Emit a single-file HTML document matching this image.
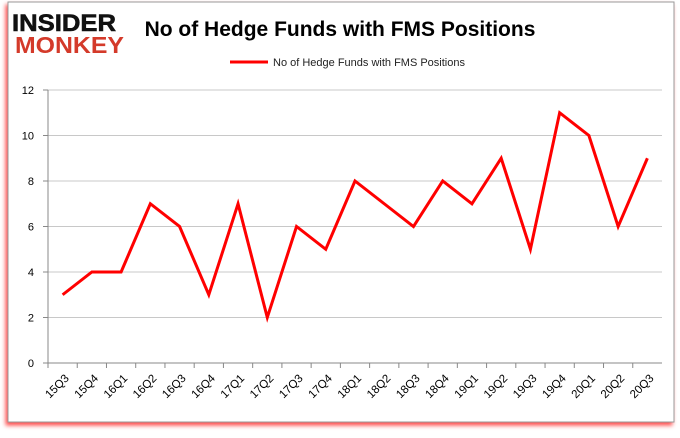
<!DOCTYPE html>
<html><head><meta charset="utf-8"><style>
body{margin:0;background:#fff;width:680px;height:433px;overflow:hidden;font-family:"Liberation Sans",sans-serif}
</style></head><body>
<svg width="680" height="433" xmlns="http://www.w3.org/2000/svg">
<defs><filter id="sh" x="-5%" y="-5%" width="110%" height="110%"><feDropShadow dx="-2" dy="3" stdDeviation="2" flood-color="#f00" flood-opacity="0.7"/></filter></defs>
<rect x="8" y="2" width="666" height="420" fill="#fff" stroke="#999" stroke-width="1" filter="url(#sh)"/>
<g font-family="Liberation Sans,sans-serif" font-weight="bold">
<text x="12" y="31" font-size="24" fill="#111" textLength="104" lengthAdjust="spacingAndGlyphs" stroke="#111" stroke-width="0.6">INSIDER</text>
<text x="15" y="53" font-size="23" fill="#d43a2a" textLength="109" lengthAdjust="spacingAndGlyphs">MONKEY</text>
</g>
<text x="340" y="36" font-size="21" font-weight="bold" text-anchor="middle" fill="#000">No of Hedge Funds with FMS Positions</text>
<line x1="230" y1="62" x2="268" y2="62" stroke="#f00" stroke-width="3"/>
<text x="273" y="66" font-size="11" fill="#222">No of Hedge Funds with FMS Positions</text>
<g id="plot"></g>
</svg>
<script>
const categories=["15Q3","15Q4","16Q1","16Q2","16Q3","16Q4","17Q1","17Q2","17Q3","17Q4","18Q1","18Q2","18Q3","18Q4","19Q1","19Q2","19Q3","19Q4","20Q1","20Q2","20Q3"];
const values=[3,4,4,7,6,3,7,2,6,5,8,7,6,8,7,9,5,11,10,6,9];
const yTicks=[0,2,4,6,8,10,12];
const NS="http://www.w3.org/2000/svg";
const g=document.getElementById('plot');
const L=48,R=662,T=90,B=363,yMax=12;
const band=(R-L)/categories.length;
const x=i=>L+band*(i+0.5);
const y=v=>B-(B-T)*v/yMax;
function mk(t,a){const e=document.createElementNS(NS,t);for(const k in a)e.setAttribute(k,a[k]);g.appendChild(e);return e;}
yTicks.forEach(v=>{
 if(v>0){const gl=mk('line',{x1:L,x2:R,y1:y(v),y2:y(v),stroke:'#c8c8c8','stroke-width':1});
 
 }
 const tk=mk('line',{x1:L-5,x2:L,y1:y(v),y2:y(v),stroke:'#888'});
 
 
 const t=mk('text',{x:L-14,y:y(v)+4,'font-size':11,'text-anchor':'end',fill:'#000'});
 t.textContent=v;
 
 
});
const ya=mk('line',{x1:L,x2:L,y1:T,y2:B,stroke:'#888'});


const xa=mk('line',{x1:L,x2:R,y1:B,y2:B,stroke:'#888'});


categories.forEach((c,i)=>{
 const tk=mk('line',{x1:L+band*i,x2:L+band*i,y1:B,y2:B+5,stroke:'#888'});
 
 
 const t=mk('text',{x:x(i)+7,y:B+16,'font-size':11.5,'text-anchor':'end',fill:'#000',transform:`rotate(-45 ${x(i)+7} ${B+16})`});
 t.textContent=c;
 
 
});
const line=mk('polyline',{points:values.map((v,i)=>x(i)+','+y(v)).join(' '),fill:'none',stroke:'#f00','stroke-width':3,'stroke-linejoin':'miter'});


</script>
</body></html>
